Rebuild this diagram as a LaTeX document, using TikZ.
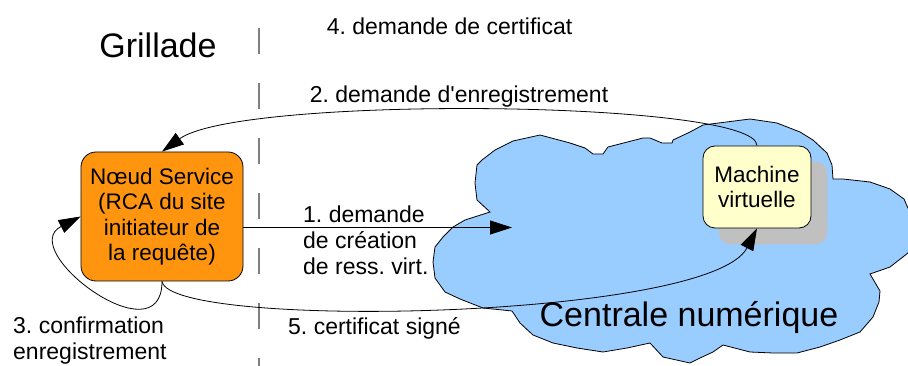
\documentclass[tikz,border=0pt]{standalone}
\usepackage{fontspec}
\setmainfont{Liberation Sans}
\usetikzlibrary{arrows.meta, backgrounds}
\definecolor{svcorange}{HTML}{FF950E}
\definecolor{cloudblue}{HTML}{99CCFF}
\definecolor{vmyellow}{HTML}{FFFFCC}
\definecolor{shadowgray}{HTML}{C0C0C0}
\frenchspacing
\begin{document}
\begin{tikzpicture}[x=1pt, y=-1pt,
                    box/.style = {draw, line width=0.8pt, align=center, inner sep=0pt, font=\fontsize{22.5}{25.5}\selectfont},
                    lbl/.style = {font=\fontsize{23}{26}\selectfont, inner sep=0pt},
                    big/.style = {font=\fontsize{34}{40}\selectfont, inner sep=0pt},
                    arrow/.style = {-{Triangle[length=22pt, width=14pt]}, line width=0.8pt},
                    cloudshape/.style = {draw, fill=cloudblue, line width=0.8pt},
                    gridline/.style = {draw=gray, line width=1.5pt, dash pattern=on 26pt off 29pt}
                ]
                \useasboundingbox (0,0) rectangle (908,366);

                \draw[gridline] (259,28) -- (259,366);

                \begin{scope}[on background layer]
                    \filldraw[cloudshape] plot coordinates {(490,212) (477,200) (475,183) (477,165) (482,160) (495,150) (513,141) (540,135) (570,143) (585,148) (593,154) (603,154) (608,147) (643,138) (650,138) (662,143) (672,143) (673,140) (690,132) (703,125) (750,119) (777,123) (800,132) (813,140) (827,153) (832,165) (833,179) (843,179) (870,182) (890,189) (904,199) (911,215) (911,240) (908,253) (890,267) (870,274) (880,291) (879,302) (873,317) (860,332) (840,340) (820,347) (797,353) (773,353) (750,352) (723,345) (713,352) (700,358) (690,363) (663,357) (650,343) (627,348) (603,352) (577,348) (553,343) (533,335) (520,323) (512,311) (483,308) (460,299) (445,292) (435,278) (433,262) (435,247) (443,237) (453,227) (465,220)} -- cycle;
                \end{scope}

                \node[box, fill=svcorange, rounded corners=15pt, minimum width=162pt, minimum height=129pt] (svc) at (162,216.5) {Nœud Service\\(RCA du site\\initiateur de\\la requête)};
                \node[box, fill=vmyellow, rounded corners=12pt, minimum width=108pt, minimum height=82pt] (vm) at (757,187) {Machine\\virtuelle};
                \begin{scope}[on background layer]
                    \fill[shadowgray, rounded corners=12pt] ([shift={(16,16)}]vm.north west) rectangle ([shift={(16,16)}]vm.south east);
                \end{scope}

                \node[big] (grillade) at (158,45) {Grillade};
                \node[big] (centrale) at (689,318) {Centrale numérique};
                \node[lbl] (l4) at (449.5,26) {4. demande de certificat};
                \node[lbl] (l2) at (459,97) {2. demande d\textquotesingle enregistrement};
                \node[lbl, align=left, anchor=west] (l1) at (303,240) {1. demande\\de création\\de ress. virt.};
                \node[lbl, align=left, anchor=west] (l3) at (13,340.5) {3. confirmation\\enregistrement};
                \node[lbl, anchor=west] (l5) at (288,328) {5. certificat signé};

                \coordinate (c1) at (512,227.5);
                \draw[arrow] (svc.east |- c1) -- (c1);
                \draw[arrow] (vm.north) .. controls (757,100) and (240,95) .. (svc.north);
                \draw[arrow] (svc.south) .. controls (162,360) and (15,250) .. (svc.west);
                \draw[arrow] (svc.south) .. controls (170,330) and (710,320) .. (vm.south);

            \end{tikzpicture}
\end{document}
